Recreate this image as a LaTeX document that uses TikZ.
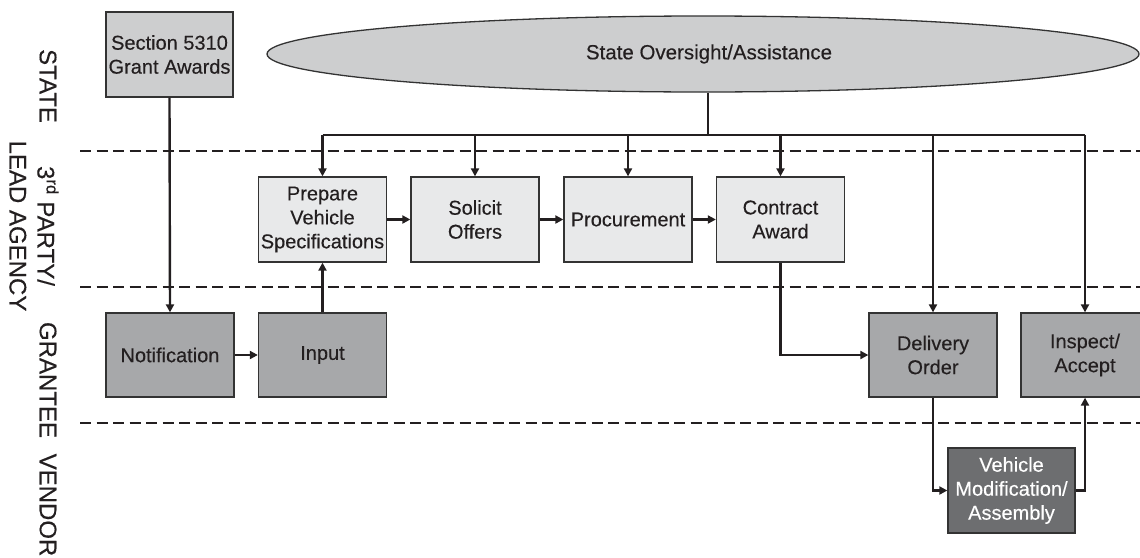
\documentclass[tikz,border=0pt]{standalone}
\usepackage{fontspec}
\setmainfont{Liberation Sans}
\newfontfamily\dfont{Liberation Sans}[FakeBold=0.3]
\usetikzlibrary{arrows.meta,shapes.geometric}
\definecolor{txt}{HTML}{231F20}
\definecolor{boxline}{HTML}{333333}
\definecolor{stategray}{HTML}{CDCECF}
\definecolor{partygray}{HTML}{E8E9EA}
\definecolor{grantgray}{HTML}{A7A8AA}
\definecolor{vendgray}{HTML}{6D6E70}
\tikzset{
  box/.style={draw=boxline, line width=1.3pt, minimum width=128pt, minimum height=84pt,
    inner sep=0pt, align=center, text=txt, font=\dfont\fontsize{20}{24}\selectfont},
  ell/.style={ellipse, draw=boxline, line width=1.3pt, fill=stategray, minimum width=872pt,
    minimum height=76pt, inner sep=0pt, text=txt, font=\dfont\fontsize{20.5}{24}\selectfont},
  conn/.style={draw=txt, line width=2.4pt},
  arr/.style={conn, -{Triangle[length=8pt,width=8pt]}},
  lane/.style={text=txt, font=\dfont\fontsize{24}{28}\selectfont, inner sep=0pt, rotate=-90, align=center},
  lanesep/.style={draw=txt, line width=2.6pt, dash pattern=on 11pt off 5.5pt}
}
\begin{document}
\begin{tikzpicture}[x=1pt,y=-1pt]
\useasboundingbox (0,0) rectangle (1140,557);
\clip (0,0) rectangle (1140,557);

% lane separators
\draw[lanesep] (80,151) -- (1140,151);
\draw[lanesep] (80,287) -- (1140,287);
\draw[lanesep] (80,423) -- (1140,423);

% lane labels
\node[lane] (lstate) at (48,86) {STATE};
\node[lane] (lparty) at (34,226) {3\textsuperscript{rd} PARTY/\\LEAD AGENCY};
\node[lane] (lgrant) at (48,380) {GRANTEE};
\node[lane] (lvend) at (48,505) {VENDOR};

% nodes
\node[box, fill=stategray, minimum width=127pt, minimum height=85pt] (sec) at (169.5,54.5) {Section 5310\\Grant Awards};
\node[ell] (ell) at (703,54) {\hspace*{12pt}State Oversight/Assistance};

\node[box, fill=partygray, minimum height=85pt] (prep) at (322.5,219.5) {Prepare\\Vehicle\\Specifications};
\node[box, fill=partygray, minimum height=85pt] (sol) at (475,219.5) {Solicit\\Offers};
\node[box, fill=partygray, minimum height=85pt] (proc) at (628,219.5) {Procurement};
\node[box, fill=partygray, minimum height=85pt] (cont) at (780.5,219.5) {Contract\\Award};

\node[box, fill=grantgray] (notif) at (170,355) {Notification};
\node[box, fill=grantgray] (inp) at (322.5,355) {Input};
\node[box, fill=grantgray] (deliv) at (933,355) {Delivery\\Order};
\node[box, fill=grantgray] (insp) at (1085,355) {Inspect/\\Accept};

\node[box, fill=vendgray, text=white, minimum width=127pt, minimum height=85pt] (veh) at (1011.5,490.5) {Vehicle\\Modification/\\Assembly};

% connectors
\coordinate (j) at (708,135);
\draw[conn] (j |- ell.south) -- (j);
\draw[conn] (prep.north |- j) -- (insp.north |- j);
\foreach \n in {prep,sol,proc,cont,deliv,insp}
  \draw[arr] (\n.north |- j) -- (\n.north);

\draw[arr] (sec.south) -- (notif.north);
\draw[arr] (notif.east) -- (inp.west);
\draw[arr] (inp.north) -- (prep.south);
\draw[arr] (prep.east) -- (sol.west);
\draw[arr] (sol.east) -- (proc.west);
\draw[arr] (proc.east) -- (cont.west);
\draw[arr] (cont.south) |- (deliv.west);
\draw[arr] (deliv.south) |- (veh.west);
\draw[arr] (veh.east) -| (insp.south);
\end{tikzpicture}
\end{document}
